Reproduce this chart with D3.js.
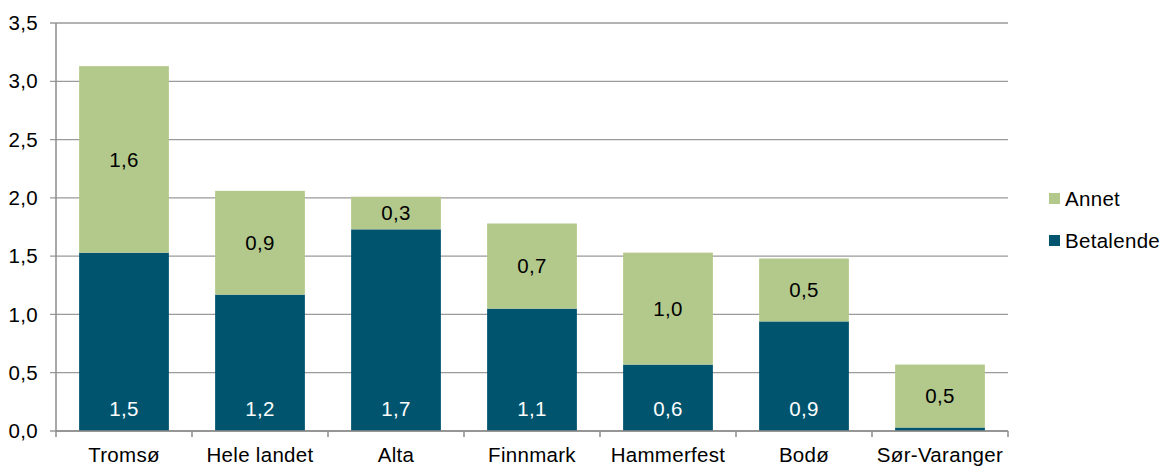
<!DOCTYPE html>
<html>
<head>
<meta charset="utf-8">
<script src="https://cdn.jsdelivr.net/npm/d3@7"></script>
<style>
  body { margin: 0; background: #fff; }
  svg text { font-family: "Liberation Sans", Arial, sans-serif; letter-spacing: 0.3px; }
</style>
</head>
<body>
<div id="chart"></div>
<script>
// Data
var categories = ["Tromsø", "Hele landet", "Alta", "Finnmark", "Hammerfest", "Bodø", "Sør-Varanger"];
var betalende = [1.53, 1.17, 1.73, 1.05, 0.57, 0.94, 0.03];
var annet = [1.60, 0.89, 0.28, 0.73, 0.96, 0.54, 0.54];
var yTicks = [0, 0.5, 1.0, 1.5, 2.0, 2.5, 3.0, 3.5];

var width = 1163, height = 466;
var margin = { left: 56, right: 155, top: 23, bottom: 35 };
var fontSize = 20.5;

var svg = d3.select("#chart").append("svg")
    .attr("width", width)
    .attr("height", height);

var x = d3.scaleBand()
    .domain(categories)
    .range([margin.left, width - margin.right])
    .paddingInner(0.34)
    .paddingOuter(0.17);

var y = d3.scaleLinear()
    .domain([0, 3.5])
    .range([height - margin.bottom, margin.top]);

var fmt = function(v) { return d3.format(".1f")(v).replace(".", ","); };

// Gridlines
svg.append("g")
    .selectAll("line")
    .data(yTicks)
    .enter().append("line")
    .attr("x1", margin.left - 6)
    .attr("x2", width - margin.right)
    .attr("y1", d => y(d))
    .attr("y2", d => y(d))
    .attr("stroke", "#9a9a9a")
    .attr("stroke-width", 1.3);

// Y tick labels
svg.append("g")
    .selectAll("text")
    .data(yTicks)
    .enter().append("text")
    .attr("x", 38)
    .attr("y", d => y(d))
    .attr("dy", "0.35em")
    .attr("text-anchor", "end")
    .attr("font-size", fontSize)
    .attr("fill", "#000")
    .text(d => fmt(d));

// Stacked data
var rows = categories.map(function(c, i) {
    return { category: c, Betalende: betalende[i], Annet: annet[i] };
});
var stack = d3.stack().keys(["Betalende", "Annet"]);
var series = stack(rows);
var color = { Betalende: "#01546e", Annet: "#b3c98c" };

var groups = svg.append("g")
    .selectAll("g")
    .data(series)
    .enter().append("g")
    .attr("fill", d => color[d.key]);

groups.selectAll("rect")
    .data(d => d)
    .enter().append("rect")
    .attr("x", d => x(d.data.category))
    .attr("width", x.bandwidth())
    .attr("y", d => y(d[1]))
    .attr("height", d => y(d[0]) - y(d[1]));

// Value labels
series.forEach(function(s) {
    svg.append("g")
        .selectAll("text")
        .data(s.filter(d => d.data[s.key] >= 0.1))
        .enter().append("text")
        .attr("x", d => x(d.data.category) + x.bandwidth() / 2)
        .attr("y", function(d) {
            return s.key === "Betalende" ? y(0) - 22 : (y(d[0]) + y(d[1])) / 2;
        })
        .attr("dy", "0.35em")
        .attr("text-anchor", "middle")
        .attr("font-size", fontSize)
        .attr("fill", s.key === "Betalende" ? "#fff" : "#000")
        .text(d => fmt(d.data[s.key]));
});

// Axes lines
svg.append("line")
    .attr("x1", margin.left).attr("x2", margin.left)
    .attr("y1", margin.top).attr("y2", y(0))
    .attr("stroke", "#8c8c8c").attr("stroke-width", 1.5);

svg.append("line")
    .attr("x1", margin.left).attr("x2", width - margin.right)
    .attr("y1", y(0)).attr("y2", y(0))
    .attr("stroke", "#8c8c8c").attr("stroke-width", 1.5);

// Category ticks at band boundaries
var step = x.step();
var bounds = d3.range(categories.length + 1).map(i => margin.left + i * step);
svg.append("g")
    .selectAll("line")
    .data(bounds)
    .enter().append("line")
    .attr("x1", d => d).attr("x2", d => d)
    .attr("y1", y(0)).attr("y2", y(0) + 6)
    .attr("stroke", "#8c8c8c").attr("stroke-width", 1.5);

// Category labels
svg.append("g")
    .selectAll("text")
    .data(categories)
    .enter().append("text")
    .attr("x", d => x(d) + x.bandwidth() / 2)
    .attr("y", y(0) + 31)
    .attr("text-anchor", "middle")
    .attr("font-size", fontSize)
    .attr("fill", "#000")
    .text(d => d);

// Legend
var legendKeys = ["Annet", "Betalende"];
var legend = svg.append("g")
    .selectAll("g")
    .data(legendKeys)
    .enter().append("g")
    .attr("transform", (d, i) => "translate(1049," + (193 + i * 42) + ")");

legend.append("rect")
    .attr("width", 11).attr("height", 11)
    .attr("fill", d => color[d]);

legend.append("text")
    .attr("x", 16)
    .attr("y", 6)
    .attr("dy", "0.35em")
    .attr("font-size", fontSize)
    .attr("fill", "#000")
    .text(d => d);
</script>
</body>
</html>
